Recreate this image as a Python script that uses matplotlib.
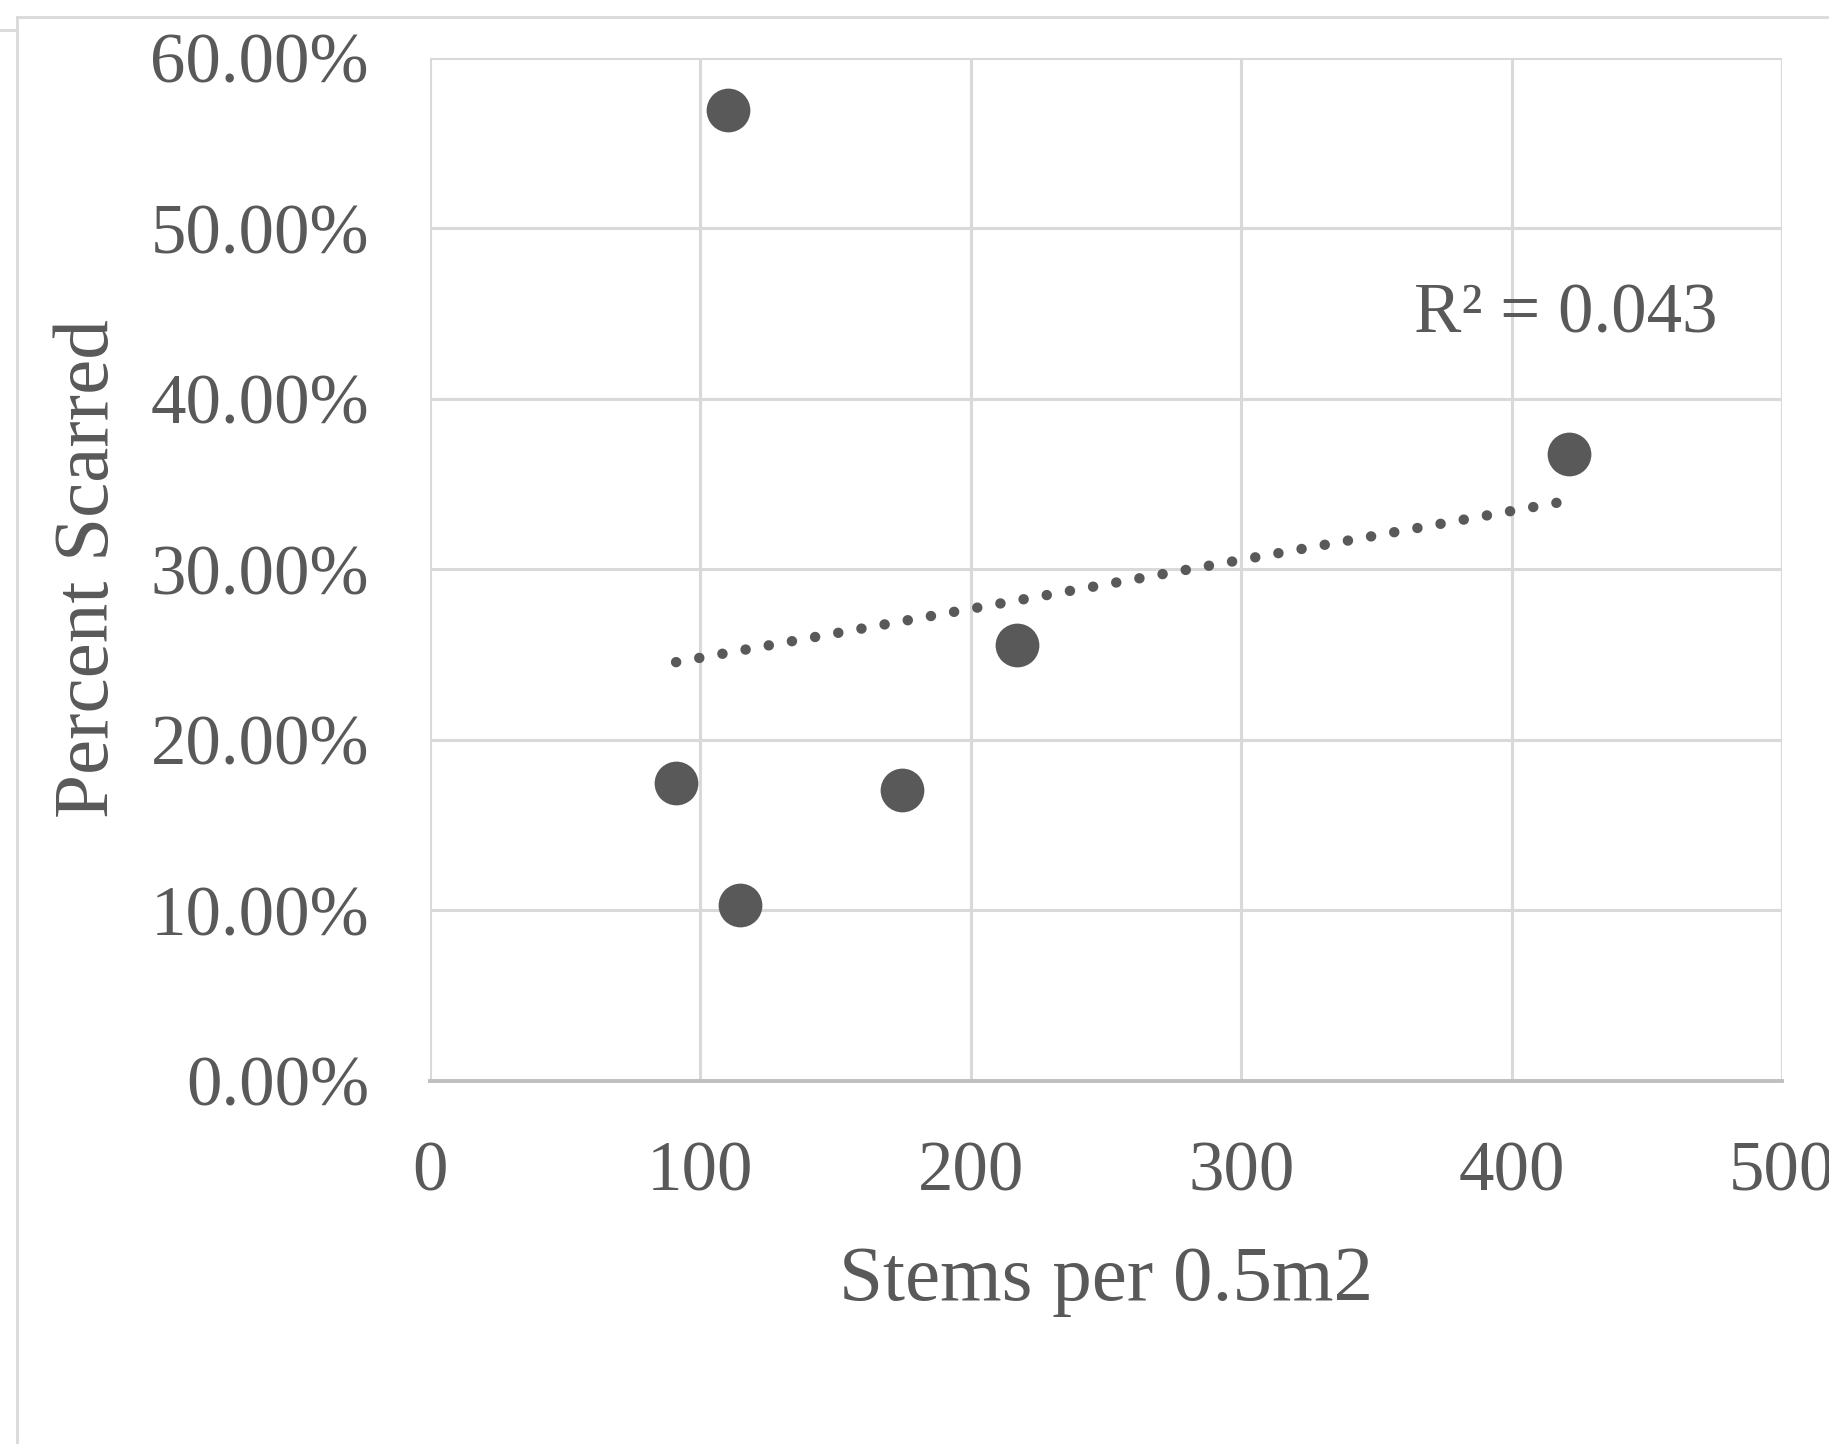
#!/usr/bin/env python3

"""
Scatter of percent scarred vs stem density, with a linear trendline.
"""

import numpy as np
import matplotlib
matplotlib.use("Agg")
import matplotlib.pyplot as plt
from matplotlib.lines import Line2D
from matplotlib.ticker import FuncFormatter

# Data
stems = [91.0, 114.6, 174.7, 217.0, 421.4, 110.3]
scarred = [0.1745, 0.1029, 0.1704, 0.2554, 0.3673, 0.569]

x_ticks = [0, 100, 200, 300, 400, 500]
y_ticks = [0.0, 0.1, 0.2, 0.3, 0.4, 0.5, 0.6]

x_title = "Stems per 0.5m2"
y_title = "Percent Scarred"

TEXT = "#595959"
GRID = "#d9d9d9"

plt.rcParams["font.family"] = ["Liberation Serif", "DejaVu Serif"]

fig = plt.figure(figsize=(18.29, 14.44), dpi=100)
ax = fig.add_axes([430 / 1829, 1 - 1080.5 / 1444, 1352 / 1829, 1023 / 1444])

# Scatter points
ax.scatter(stems, scarred, s=31.5 ** 2, color=TEXT, zorder=3, linewidths=0)

# Linear trendline over the data range
x = np.array(stems)
y = np.array(scarred)
slope, intercept = np.polyfit(x, y, 1)
xs = np.array([x.min(), x.max()])
ax.plot(xs, slope * xs + intercept, color=TEXT, lw=7.5,
        linestyle=(0, (0.01, 2.25)), dash_capstyle="round", zorder=2)

r2 = np.corrcoef(x, y)[0, 1] ** 2
ax.text(0.84, 0.7307, f"R\u00b2 = {r2:.3f}", transform=ax.transAxes,
        ha="center", va="baseline", fontsize=51, color=TEXT)

# Axes
ax.set_xlim(0, 500)
ax.set_ylim(0, 0.6)
ax.set_xticks(x_ticks)
ax.set_yticks(y_ticks)
ax.yaxis.set_major_formatter(FuncFormatter(lambda v, _: f"{v * 100:.2f}%"))
ax.tick_params(axis="both", length=0, labelsize=51, labelcolor=TEXT)
ax.tick_params(axis="y", pad=44)
ax.tick_params(axis="x", pad=43)
ax.grid(True, color=GRID, lw=2.2)
ax.set_axisbelow(True)
for side in ["top", "right", "left"]:
    ax.spines[side].set_visible(False)
ax.spines["bottom"].set_color("#bfbfbf")
ax.spines["bottom"].set_linewidth(2.8)

ax.set_xlabel(x_title, fontsize=57, color=TEXT, labelpad=29)
ax.set_ylabel(y_title, fontsize=57, color=TEXT, labelpad=18)

# Chart frame edges
fig.add_artist(Line2D([17 / 1829, 1], [1 - 17 / 1444, 1 - 17 / 1444],
                      color=GRID, lw=2))
fig.add_artist(Line2D([17 / 1829, 17 / 1829], [0, 1 - 17 / 1444],
                      color=GRID, lw=2))
fig.add_artist(Line2D([0, 15 / 1829], [1 - 30 / 1444, 1 - 30 / 1444],
                      color=GRID, lw=2))

fig.savefig("out.png", dpi=100)
